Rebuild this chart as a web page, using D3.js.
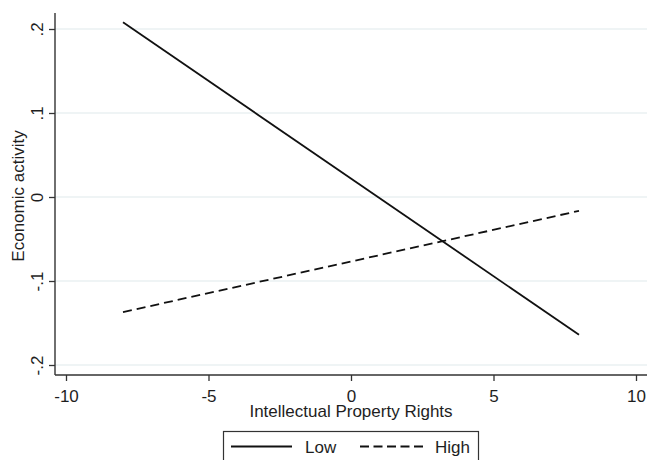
<!DOCTYPE html>
<html>
<head>
<meta charset="utf-8">
<script src="https://cdn.jsdelivr.net/npm/d3@7"></script>
<style>
  html, body { margin: 0; padding: 0; background: #fff; }
  svg { display: block; font-family: "Liberation Sans", Arial, sans-serif; }
</style>
</head>
<body>
<svg id="chart" width="648" height="460"></svg>
<script>
// Predicted economic activity across intellectual property rights, by group
const iprValues = [-8, 8];
const lowValues = [0.208, -0.164];
const highValues = [-0.137, -0.0165];
const seriesNames = ["Low", "High"];
const xTicks = [-10, -5, 0, 5, 10];
const xTickLabels = ["-10", "-5", "0", "5", "10"];
const yTicks = [-0.2, -0.1, 0, 0.1, 0.2];
const yTickLabels = ["-.2", "-.1", "0", ".1", ".2"];

const svg = d3.select("#chart");
const plotLeft = 55, plotRight = 647, plotTop = 13, plotBottom = 375;
const fontSize = 17;
const textColor = "#1e1e1e";
const dashPattern = "9,5";

const x = d3.scaleLinear().domain([-10, 10]).range([66, 636]);
const y = d3.scaleLinear().domain([-0.2, 0.2]).range([365, 29]);

// gridlines
svg.append("g").selectAll("line").data(yTicks).join("line")
  .attr("x1", plotLeft).attr("x2", plotRight)
  .attr("y1", d => y(d)).attr("y2", d => y(d))
  .attr("stroke", "#eaf1f2").attr("stroke-width", 1.3);

// y axis
const yAxis = d3.axisLeft(y).tickValues(yTicks)
  .tickFormat((d, i) => yTickLabels[i]).tickSize(6).tickPadding(4);
const gy = svg.append("g").attr("transform", `translate(${plotLeft},0)`).call(yAxis);
gy.select(".domain").remove();
gy.selectAll(".tick line").attr("stroke", "#333").attr("stroke-width", 1.3);
gy.selectAll(".tick text")
  .attr("font-size", fontSize).attr("fill", textColor)
  .attr("x", null).attr("dy", null)
  .attr("text-anchor", "middle")
  .attr("transform", "translate(-12,0) rotate(-90)")
  .attr("y", 0);
svg.append("line").attr("x1", plotLeft).attr("x2", plotLeft).attr("y1", plotTop).attr("y2", plotBottom)
  .attr("stroke", "#333").attr("stroke-width", 1.4);

// x axis
const xAxis = d3.axisBottom(x).tickValues(xTicks)
  .tickFormat((d, i) => xTickLabels[i]).tickSize(6).tickPadding(4);
const gx = svg.append("g").attr("transform", `translate(0,${plotBottom})`).call(xAxis);
gx.select(".domain").remove();
gx.selectAll(".tick line").attr("stroke", "#333").attr("stroke-width", 1.3);
gx.selectAll(".tick text").attr("font-size", fontSize).attr("fill", textColor)
  .attr("y", 27).attr("dy", null);
svg.append("line").attr("x1", plotLeft).attr("x2", plotRight).attr("y1", plotBottom).attr("y2", plotBottom)
  .attr("stroke", "#333").attr("stroke-width", 1.4);

// axis titles
svg.append("text").attr("x", 351).attr("y", 417).attr("text-anchor", "middle")
  .attr("font-size", fontSize).attr("fill", textColor).text("Intellectual Property Rights");
svg.append("text").attr("transform", "translate(24,196) rotate(-90)")
  .attr("text-anchor", "middle").attr("font-size", fontSize).attr("fill", textColor)
  .text("Economic activity");

// series lines
const line = d3.line().x(d => x(d[0])).y(d => y(d[1]));
const series = [
  { name: seriesNames[0], values: lowValues, dash: null },
  { name: seriesNames[1], values: highValues, dash: dashPattern }
];
svg.append("g").selectAll("path").data(series).join("path")
  .attr("d", s => line(iprValues.map((v, i) => [v, s.values[i]])))
  .attr("fill", "none").attr("stroke", "#111").attr("stroke-width", 1.8)
  .attr("stroke-dasharray", s => s.dash);

// legend
const lg = svg.append("g");
lg.append("rect").attr("x", 223.5).attr("y", 431.5).attr("width", 255).attr("height", 40)
  .attr("fill", "#fff").attr("stroke", "#333").attr("stroke-width", 1.2);
const items = [
  { x0: 231, x1: 292, tx: 305, dash: null, label: seriesNames[0] },
  { x0: 360, x1: 423, tx: 435, dash: "9,4.5", label: seriesNames[1] }
];
items.forEach(it => {
  lg.append("line").attr("x1", it.x0).attr("x2", it.x1).attr("y1", 446.5).attr("y2", 446.5)
    .attr("stroke", "#111").attr("stroke-width", 1.8).attr("stroke-dasharray", it.dash);
  lg.append("text").attr("x", it.tx).attr("y", 453).attr("font-size", fontSize)
    .attr("fill", textColor).text(it.label);
});
</script>
</body>
</html>
